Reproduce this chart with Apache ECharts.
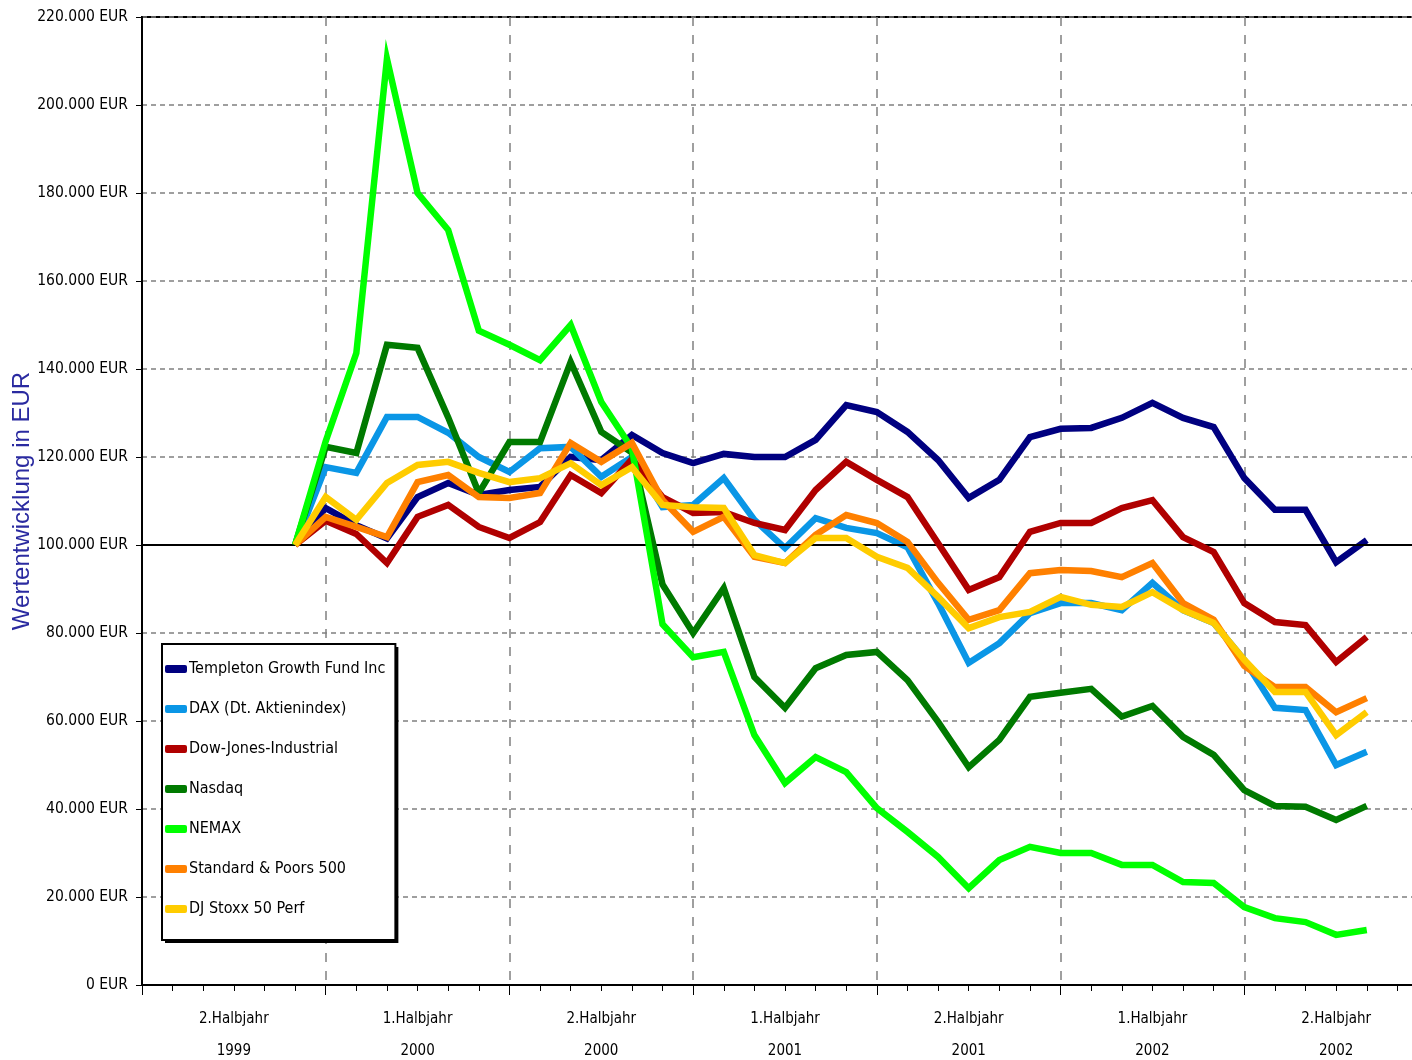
<!DOCTYPE html>
<html>
<head>
<meta charset="utf-8">
<script src="https://cdn.jsdelivr.net/npm/echarts@6/dist/echarts.min.js"></script>
<style>
html,body{margin:0;padding:0;background:#fff;}
#chart{width:1412px;height:1060px;}
</style>
</head>
<body>
<div id="chart"></div>
<script>
// Half-year bands (x axis labels)
const halfYears = ['2.Halbjahr\n1999','1.Halbjahr\n2000','2.Halbjahr\n2000','1.Halbjahr\n2001','2.Halbjahr\n2001','1.Halbjahr\n2002','2.Halbjahr\n2002'];
// Month index (0 = start of 2.Halbjahr 1999) of each data point
const months = [5,6,7,8,9,10,11,12,13,14,15,16,17,18,19,20,21,22,23,24,25,26,27,28,29,30,31,32,33,34,35,36,37,38,39,40];
const seriesNames = ['Templeton Growth Fund Inc','DAX (Dt. Aktienindex)','Dow-Jones-Industrial','Nasdaq','NEMAX','Standard & Poors 500','DJ Stoxx 50 Perf'];
const templeton = [100000,108400,104500,101500,110900,114100,111400,112500,113200,120000,119300,125000,120900,118600,120700,120000,120000,123900,131800,130200,125700,119300,110700,114800,124500,126400,126600,128900,132300,128900,126800,115200,108000,108000,96100,101100];
const dax = [100000,117700,116400,129100,129100,125500,120000,116600,122000,122300,115500,120000,108600,109100,115200,105700,99300,106100,103900,102700,99500,86800,73200,77700,84500,86800,86800,85200,91400,85200,82300,73900,63000,62500,50000,53000];
const dow = [100000,105500,102500,95900,106400,109100,104100,101600,105200,115900,111800,119500,110900,107300,107500,105000,103400,112500,118900,114800,110900,100400,89800,92700,103000,105000,105000,108400,110200,101800,98400,86800,82500,81800,73400,79100];
const nasdaq = [100000,122300,120900,145500,144800,129000,111800,123400,123400,141600,125700,121000,91000,80000,90200,70000,63000,72000,75000,75700,69300,59800,49500,55700,65500,66400,67300,61000,63400,56400,52300,44300,40700,40500,37500,40700];
const nemax = [100000,123600,143600,210500,180000,171600,148700,145500,142000,150000,132500,122000,82000,74500,75700,56800,45900,51800,48400,40200,34800,29100,22000,28400,31400,30000,30000,27300,27300,23400,23200,17700,15200,14300,11400,12500];
const sp500 = [100000,106400,104100,101800,114300,115900,110900,110700,111800,123200,118900,123200,110200,103000,106400,97300,95900,102300,106800,105000,100700,91400,83000,85200,93600,94300,94100,92700,95900,86800,83000,72500,67700,67700,62000,65200];
const stoxx = [100000,110900,105700,114100,118200,118900,116400,114300,115200,118600,113600,117700,109100,108600,108400,97700,95900,101600,101600,97300,94800,88200,81100,83600,84800,88200,86400,85900,89300,85200,82300,73900,66600,66600,56800,62000];
const seriesValues = [templeton, dax, dow, nasdaq, nemax, sp500, stoxx];
const colors = ['#000080','#0a96e6','#b00000','#007a00','#00ff00','#ff8000','#ffcc00'];
const baseValue = 100000;

const FONT = "'Liberation Sans Narrow','DejaVu Sans Condensed','Arial Narrow',sans-serif";

function fmtEUR(v){
  return String(v).replace(/\B(?=(\d{3})+(?!\d))/g, '.') + ' EUR';
}

const series = seriesNames.map((name, i) => ({
  name: name,
  type: 'line',
  xAxisIndex: 0,
  data: months.map((m, j) => [m, seriesValues[i][j]]),
  symbol: 'none',
  lineStyle: { color: colors[i], width: 6.5, join: 'miter' },
  itemStyle: { color: colors[i] },
  z: 3 + i,
  animation: false
}));
// base line at 100.000 EUR
series.unshift({
  name: '_base',
  type: 'line',
  data: [],
  xAxisIndex: 0,
  markLine: {
    silent: true,
    symbol: 'none',
    label: { show: false },
    lineStyle: { color: '#000', width: 2, type: 'solid' },
    data: [{ yAxis: baseValue }],
    animation: false
  },
  z: 2
});

const legendCommon = {
  data: seriesNames,
  orient: 'vertical',
  icon: 'roundRect',
  itemWidth: 22, itemHeight: 8,
  itemGap: 20,
  padding: [15, 10, 21, 3],
  selectedMode: false
};

const chart = echarts.init(document.getElementById('chart'), null, { renderer: 'canvas' });
chart.setOption({
  animation: false,
  backgroundColor: '#fff',
  grid: {
    left: 142, right: -16, top: 17, bottom: 75,
    outerBoundsMode: 'none',
    containLabel: false,
    show: true, borderColor: '#000', borderWidth: 2, backgroundColor: 'transparent'
  },
  legend: [
    Object.assign({}, legendCommon, {
      // drop shadow of the legend box
      left: 165, top: 647,
      z: 20,
      backgroundColor: '#000',
      borderWidth: 0,
      itemStyle: { opacity: 0 },
      textStyle: { fontFamily: FONT, fontSize: 16, color: 'rgba(0,0,0,0)', lineHeight: 20, padding: [0,0,0,-3] }
    }),
    Object.assign({}, legendCommon, {
      left: 162, top: 644,
      z: 21,
      backgroundColor: '#fff',
      borderColor: '#000',
      borderWidth: 2,
      textStyle: { fontFamily: FONT, fontSize: 16, color: '#000', lineHeight: 20, padding: [0,0,0,-3] }
    })
  ],
  xAxis: [
    {
      type: 'value',
      min: 0, max: 42, interval: 6,
      position: 'bottom',
      axisLine: { show: true, lineStyle: { color: '#000', width: 2 } },
      axisTick: { show: true, length: 10, lineStyle: { color: '#000', width: 1 } },
      minorTick: { show: true, splitNumber: 6, length: 6, lineStyle: { color: '#000', width: 1 } },
      axisLabel: { show: false },
      splitLine: { show: true, lineStyle: { color: '#808080', width: 1.5, type: [9, 9] } },
      minorSplitLine: { show: false }
    },
    {
      type: 'category',
      data: halfYears,
      position: 'bottom',
      boundaryGap: true,
      axisLine: { show: false },
      axisTick: { show: false },
      splitLine: { show: false },
      axisLabel: {
        interval: 0,
        margin: 18,
        fontFamily: FONT, fontSize: 15, color: '#000', lineHeight: 32
      }
    }
  ],
  yAxis: {
    type: 'value',
    min: 0, max: 220000, interval: 20000,
    name: 'Wertentwicklung in EUR',
    nameLocation: 'middle',
    nameGap: 108,
    nameRotate: 90,
    nameMoveOverlap: false,
    nameTextStyle: { color: '#2a2aa0', fontFamily: "'Liberation Sans',Arial,sans-serif", fontSize: 24 },
    axisLine: { show: true, lineStyle: { color: '#000', width: 2 } },
    axisTick: { show: true, length: 6, lineStyle: { color: '#000' } },
    axisLabel: {
      formatter: fmtEUR,
      margin: 14,
      fontFamily: FONT, fontSize: 15.5, color: '#000'
    },
    splitLine: { show: true, lineStyle: { color: '#808080', width: 1.5, type: [5, 4] } }
  },
  series: series
});
</script>
</body>
</html>
